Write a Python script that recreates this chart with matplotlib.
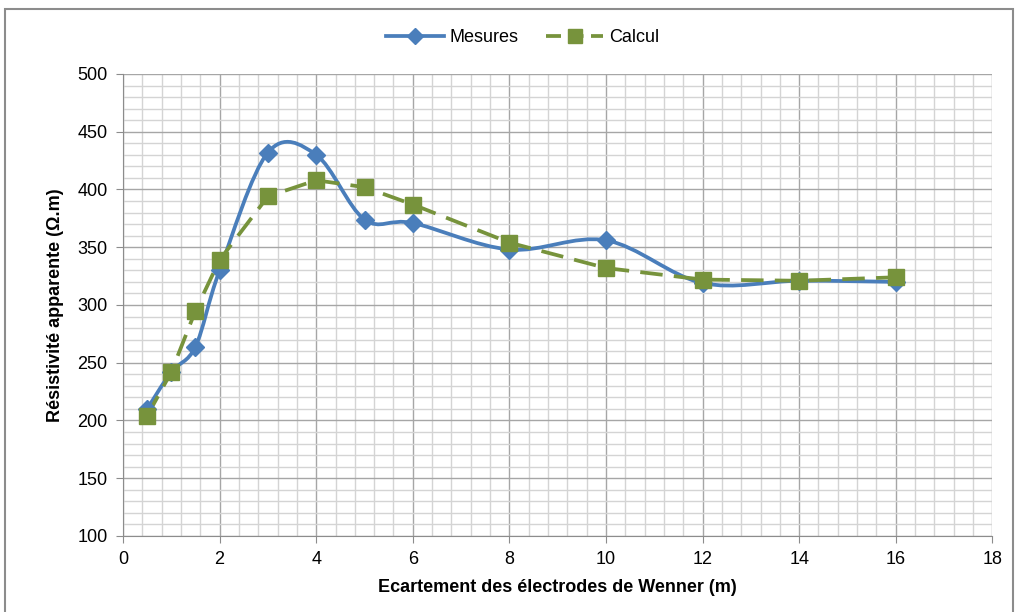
import numpy as np
import matplotlib.pyplot as plt
from matplotlib.path import Path
from matplotlib.patches import PathPatch, Rectangle
from matplotlib.lines import Line2D
from matplotlib.ticker import MultipleLocator

plt.rcParams['font.family'] = ['Liberation Sans Narrow', 'Liberation Sans', 'DejaVu Sans']

# espacements (m) et résistivités apparentes (ohm.m)
ecart = [0.5, 1, 1.5, 2, 3, 4, 5, 6, 8, 10, 12, 14, 16]
mesures = [210, 242, 264, 330, 432, 430, 374, 371, 348, 356, 319, 321, 320]
calcul = [204, 242, 295, 339, 394, 408, 402, 387, 354, 332, 322, 321, 324]

blue = '#4a7ebb'
green = '#77933c'


def smooth_path(x, y):
    # courbe lissée façon tableur : Bézier cubique à tangentes de Catmull-Rom
    x = np.asarray(x, float)
    y = np.asarray(y, float)
    verts = [(x[0], y[0])]
    codes = [Path.MOVETO]
    n = len(x)
    for i in range(n - 1):
        i0 = max(i - 1, 0)
        i3 = min(i + 2, n - 1)
        c1 = (x[i] + (x[i + 1] - x[i0]) / 6, y[i] + (y[i + 1] - y[i0]) / 6)
        c2 = (x[i + 1] - (x[i3] - x[i]) / 6, y[i + 1] - (y[i3] - y[i]) / 6)
        verts += [c1, c2, (x[i + 1], y[i + 1])]
        codes += [Path.CURVE4] * 3
    return Path(verts, codes)


fig = plt.figure(figsize=(10.15, 6.12), dpi=100)
ax = fig.add_axes([0.1212, 0.1242, 0.8565, 0.7549])

# cadre du graphique
fig.patches.append(Rectangle((0.005, -0.01), 0.993, 0.995, transform=fig.transFigure,
                             fill=False, edgecolor='#8c8c8c', linewidth=1.5))

ax.set_xlim(0, 18)
ax.set_ylim(100, 500)
ax.xaxis.set_major_locator(MultipleLocator(2))
ax.xaxis.set_minor_locator(MultipleLocator(0.4))
ax.yaxis.set_major_locator(MultipleLocator(50))
ax.yaxis.set_minor_locator(MultipleLocator(10))
ax.grid(which='major', color='#a6a6a6', linewidth=1.0)
ax.grid(which='minor', color='#d4d4d4', linewidth=1.0)
ax.set_axisbelow(True)
for s in ['top', 'right']:
    ax.spines[s].set_visible(False)
for s in ['left', 'bottom']:
    ax.spines[s].set_color('#8c8c8c')
ax.tick_params(which='major', length=5, color='#8c8c8c', labelsize=13, pad=6)
ax.tick_params(which='minor', length=0)

ax.add_patch(PathPatch(smooth_path(ecart, mesures), fill=False, edgecolor=blue,
                       linewidth=2.7, zorder=3))
ax.plot(ecart, calcul, color=green, linewidth=2.7, linestyle=(0, (6, 3)), zorder=3)
ax.plot(ecart, mesures, linestyle='none', marker='D', markersize=9, color=blue, zorder=4)
ax.plot(ecart, calcul, linestyle='none', marker='s', markersize=11, color=green, zorder=5)

ax.set_xlabel('Ecartement des électrodes de Wenner (m)', fontsize=13, fontweight='bold', labelpad=8)
ax.set_ylabel('Résistivité apparente (Ω.m)', fontsize=13, fontweight='bold', labelpad=10)

handles = [
    Line2D([], [], color=blue, linewidth=2.7, marker='D', markersize=8),
    Line2D([], [], color=green, linewidth=2.7, linestyle=(0, (4, 2)), marker='s', markersize=10),
]
fig.legend(handles, ['Mesures', 'Calcul'], loc='center', bbox_to_anchor=(0.515, 0.938),
           ncol=2, frameon=False, fontsize=13, handlelength=3.2, columnspacing=1.5,
           handletextpad=0.3)

fig.savefig('out.png', dpi=100)
